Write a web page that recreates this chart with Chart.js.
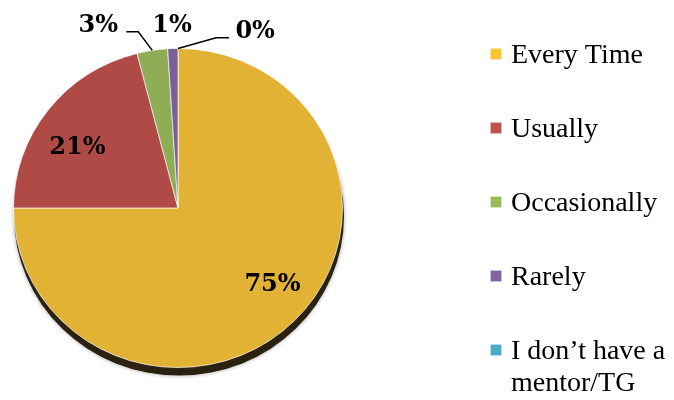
<!DOCTYPE html>
<html>
<head>
<meta charset="utf-8">
<title>Mentor / TG pie</title>
<script src="https://cdn.jsdelivr.net/npm/chart.js@4/dist/chart.umd.min.js"></script>
<style>
    html, body { margin: 0; padding: 0; background: #ffffff; }
    #wrap { width: 674px; height: 400px; position: relative; }
</style>
</head>
<body>
<div id="wrap"><canvas id="pieChart" width="674" height="400"></canvas></div>
<script>
// Data
const categories = ['Every Time', 'Usually', 'Occasionally', 'Rarely', ['I don\u2019t have a', 'mentor/TG']];
const percentValues = [75, 21, 3, 1, 0];
const valueLabels = ['75%', '21%', '3%', '1%', '0%'];

// Colours
const sliceColors = ['#E1B233', '#B04A47', '#8FAD55', '#7A5F9B', '#4AAAC4'];
const legendColors = ['#FCC632', '#C0504D', '#9BBB59', '#8064A2', '#4BACC6'];

// Where each value label sits: radius factor, angle nudge (deg), optional leader line
// leader points are offsets from the label centre: [elbow, end]
const labelPlacement = [
    { rf: 0.75, da: -5 },
    { rf: 0.72, da: -6 },
    { rf: 1.24, da: -14, leader: [[40, 6], [28, 6]] },
    { rf: 1.14, da: 0 },
    { rf: 1.20, da: 23, leader: [[-39, 6], [-26, 6]] }
];

const labelFont = 'bold 24px "DejaVu Serif", serif';
const legendFont = '28px "Liberation Serif", serif';

// the original pie is slightly squashed (tilted 3D look)
const squash = 0.97;

// Dark rim under the pie + vertical squash of the arcs
const pieShadow = {
    id: 'pieShadow',
    beforeDatasetsDraw(chart) {
        const arc = chart.getDatasetMeta(0).data[0];
        if (!arc) return;
        const ctx = chart.ctx;
        ctx.save();
        ctx.translate(arc.x, arc.y);
        ctx.scale(1, squash);
        ctx.translate(-arc.x, -arc.y);

        ctx.save();
        ctx.shadowColor = 'rgba(0,0,0,0.35)';
        ctx.shadowBlur = 4;
        ctx.beginPath();
        ctx.ellipse(arc.x + 1, arc.y + 8 / squash, arc.outerRadius + 0.5, arc.outerRadius, 0, 0, Math.PI * 2);
        ctx.fillStyle = '#2B2110';
        ctx.fill();
        ctx.restore();
    },
    afterDatasetsDraw(chart) {
        chart.ctx.restore();
    }
};

// Percent labels, with leader lines for the thin slices
const sliceLabels = {
    id: 'sliceLabels',
    afterDatasetsDraw(chart) {
        const ctx = chart.ctx;
        const arcs = chart.getDatasetMeta(0).data;
        ctx.save();
        ctx.font = labelFont;
        ctx.fillStyle = '#000';
        ctx.textAlign = 'center';
        ctx.textBaseline = 'middle';
        arcs.forEach((arc, i) => {
            const p = labelPlacement[i];
            const mid = (arc.startAngle + arc.endAngle) / 2;
            const r = arc.outerRadius;
            const a = mid + p.da * Math.PI / 180;
            const lx = arc.x + Math.cos(a) * r * p.rf;
            const ly = arc.y + Math.sin(a) * r * p.rf * squash;
            if (p.leader) {
                ctx.beginPath();
                ctx.moveTo(arc.x + Math.cos(mid) * r, arc.y + Math.sin(mid) * r * squash);
                p.leader.forEach(pt => ctx.lineTo(lx + pt[0], ly + pt[1]));
                ctx.strokeStyle = '#000';
                ctx.lineWidth = 1.5;
                ctx.stroke();
            }
            ctx.fillText(valueLabels[i], lx, ly);
        });
        ctx.restore();
    }
};

// Legend on the right, drawn by hand so the last entry can wrap
const sideLegend = {
    id: 'sideLegend',
    afterDraw(chart) {
        const ctx = chart.ctx;
        const x = 490, firstBaseline = 63, rowGap = 74, lineGap = 32, box = 12;
        ctx.save();
        ctx.font = legendFont;
        ctx.textAlign = 'left';
        ctx.textBaseline = 'alphabetic';
        chart.data.labels.forEach((label, i) => {
            const base = firstBaseline + i * rowGap;
            ctx.fillStyle = legendColors[i];
            ctx.fillRect(x, base - 15, box, box);
            ctx.strokeStyle = 'rgba(255,255,255,0.6)';
            ctx.lineWidth = 1;
            ctx.strokeRect(x + 0.5, base - 14.5, box - 1, box - 1);
            ctx.fillStyle = '#000';
            const lines = Array.isArray(label) ? label : [label];
            lines.forEach((ln, j) => ctx.fillText(ln, x + 21, base + j * lineGap));
        });
        ctx.restore();
    }
};

const ctx = document.getElementById('pieChart').getContext('2d');
new Chart(ctx, {
    type: 'pie',
    data: {
        labels: categories,
        datasets: [{
            data: percentValues,
            backgroundColor: sliceColors,
            borderColor: 'rgba(255,255,255,0.7)',
            borderWidth: 1
        }]
    },
    options: {
        responsive: false,
        animation: false,
        layout: { padding: { left: 13, top: 43, right: 331, bottom: 27 } },
        plugins: {
            legend: { display: false },
            tooltip: { enabled: false }
        }
    },
    plugins: [pieShadow, sliceLabels, sideLegend]
});
</script>
</body>
</html>
